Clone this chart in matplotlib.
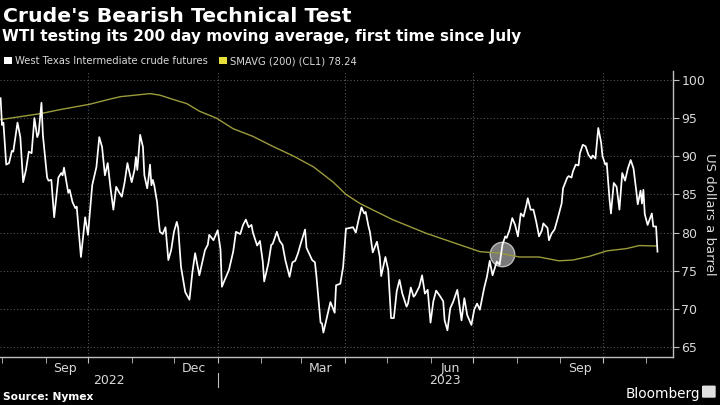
import pandas as pd
import matplotlib
matplotlib.use("Agg")
import matplotlib.pyplot as plt
import matplotlib.dates as mdates
import matplotlib.transforms as mtransforms
from matplotlib.patches import Patch, FancyBboxPatch

# Tage gezählt ab START_DATE
START_DATE = pd.Timestamp("2022-08-01")
X_START = pd.Timestamp("2022-07-30 14:00")
X_END = pd.Timestamp("2023-11-20")

wti_day = [
    -1, 0, 1, 3, 5, 7, 8, 11, 13, 15, 17, 19, 21, 23, 25, 26, 28, 29, 32, 33,
    35, 37, 40, 42, 43, 44, 47, 48, 50, 52, 53, 56, 59, 61, 64, 67, 69, 71, 73, 75,
    77, 79, 81, 83, 85, 87, 89, 90, 92, 94, 95, 96, 98, 100, 101, 103, 104, 105, 106, 107,
    108, 110, 111, 112, 114, 116, 118, 120, 122, 124, 125, 127, 130, 133, 135, 137, 140, 144, 146, 147,
    150, 153, 155, 156, 158, 161, 164, 166, 169, 171, 173, 175, 177, 178, 181, 183, 185, 186, 189, 191,
    192, 195, 197, 199, 201, 204, 206, 208, 210, 212, 215, 216, 220, 222, 223, 226, 227, 228, 230, 233,
    236, 237, 240, 242, 244, 249, 251, 253, 255, 257, 258, 260, 261, 263, 266, 268, 269, 272, 274, 276,
    278, 280, 282, 284, 287, 288, 290, 292, 293, 296, 298, 300, 302, 304, 306, 308, 311, 313, 314, 316,
    318, 320, 323, 326, 328, 330, 333, 335, 337, 339, 342, 344, 346, 348, 351, 353, 355, 357, 358, 360,
    362, 364, 366, 368, 370, 372, 373, 375, 377, 379, 381, 383, 384, 387, 388, 390, 392, 394, 397, 398,
    401, 402, 404, 405, 407, 409, 410, 412, 414, 416, 418, 419, 421, 423, 425, 426, 428, 429, 431, 432,
    434, 436, 438, 440, 442, 444, 446, 448, 450, 451, 453, 454, 455, 456, 458, 461, 462, 464, 465,
]
wti_price = [
    97.6, 94.1, 94.4, 88.9, 89.1, 90.7, 90.6, 94.4, 92.5, 86.6, 88.2, 90.6, 90.4, 95.0, 92.5, 93.0, 97.0, 92.8, 87.2, 86.8,
    86.9, 82.0, 87.2, 87.8, 87.5, 88.5, 85.2, 85.6, 84.0, 83.2, 83.4, 76.8, 82.0, 79.7, 86.2, 88.6, 92.5, 91.2, 87.5, 89.1,
    85.8, 83.0, 86.0, 85.3, 84.7, 86.6, 89.1, 88.2, 86.6, 88.2, 89.9, 88.2, 92.8, 91.2, 87.5, 85.8, 87.2, 88.9, 86.2, 86.9,
    86.2, 84.0, 81.9, 80.1, 79.8, 80.7, 76.4, 77.7, 80.1, 81.4, 80.6, 75.5, 72.2, 71.2, 74.7, 77.3, 74.4, 77.7, 78.4, 79.7,
    79.0, 80.3, 77.8, 72.9, 73.8, 75.1, 77.5, 80.1, 79.8, 81.0, 81.7, 80.7, 81.0, 80.0, 78.3, 78.9, 76.2, 73.6, 76.0, 78.4,
    78.5, 80.1, 78.9, 78.4, 76.4, 74.2, 76.1, 76.3, 77.3, 78.6, 80.4, 78.0, 76.4, 76.1, 74.4, 68.2, 68.1, 66.9, 68.5, 70.9,
    69.5, 73.1, 73.3, 75.5, 80.5, 80.7, 80.0, 81.7, 83.3, 82.5, 82.7, 80.8, 80.1, 77.4, 78.8, 76.8, 74.3, 76.8, 75.1, 68.8,
    68.8, 72.3, 73.8, 72.0, 70.3, 70.7, 72.8, 71.6, 71.8, 72.9, 74.4, 72.0, 72.5, 68.2, 71.0, 72.4, 71.6, 71.0, 68.5, 67.2,
    70.1, 70.9, 72.5, 68.5, 71.4, 69.2, 67.9, 69.9, 70.7, 69.9, 72.7, 74.2, 76.3, 74.4, 76.2, 75.8, 78.4, 79.5, 79.3, 80.3,
    81.9, 81.0, 79.5, 82.5, 82.1, 83.6, 84.5, 83.0, 83.0, 81.4, 79.5, 80.3, 81.2, 80.6, 79.0, 79.9, 80.4, 81.7, 83.8, 85.8,
    87.2, 87.4, 87.2, 88.0, 88.9, 88.8, 90.4, 91.5, 91.3, 90.2, 89.7, 90.1, 89.7, 93.7, 91.8, 90.0, 88.9, 89.1, 84.3, 82.5,
    86.5, 86.0, 83.0, 87.8, 86.8, 88.4, 89.5, 88.4, 85.4, 83.7, 85.5, 83.8, 85.6, 82.4, 81.0, 82.5, 80.8, 80.8, 77.5,
]

ma_day = [-1, 28, 41, 62, 77, 84, 105, 112, 122, 131, 140, 152, 164, 178, 192, 207, 221, 235, 244, 254,
          277, 301, 320, 339, 353, 367, 381, 395, 405, 417, 429, 443, 452, 464]
ma_price = [94.8, 95.6, 96.1, 96.8, 97.5, 97.8, 98.2, 98.0, 97.4, 96.9, 95.9, 95.0, 93.6, 92.6, 91.3, 90.0, 88.6, 86.6, 85.0, 83.8,
            81.7, 79.9, 78.7, 77.5, 77.3, 76.8, 76.8, 76.3, 76.4, 76.9, 77.6, 77.9, 78.3, 78.24]

cross_day = 355
cross_price = 77.2

y_ticks = [65, 70, 75, 80, 85, 90, 95, 100]
month_labels = ["Sep", "Dec", "Mar", "Jun", "Sep"]
month_label_dates = ["2022-09-15", "2022-12-15", "2023-03-15", "2023-06-15", "2023-09-15"]
years = [2022, 2023]

BG = "#000000"
TXT = "#d9d9d9"
WTI_COLOR = "#ffffff"
MA_COLOR = "#9c9b3c"
MA_LEGEND = "#e8e03a"
GRID = "#555555"


def to_num(days):
    return mdates.date2num(START_DATE + pd.to_timedelta(days, unit="D"))


fig = plt.figure(figsize=(7.2, 4.05), dpi=100, facecolor=BG)
ax = fig.add_axes([0.0, 0.1185, 0.9347, 0.705])
ax.set_facecolor(BG)

ax.scatter(to_num([cross_day]), [cross_price], s=310, color="#8f8f8f", alpha=0.85,
           edgecolors="#d0d0d0", linewidths=1.0, zorder=1.5)
ax.plot(to_num(ma_day), ma_price, color=MA_COLOR, lw=1.0, zorder=2)
ax.plot(to_num(wti_day), wti_price, color=WTI_COLOR, lw=1.25, zorder=3)

ax.set_xlim(mdates.date2num(X_START), mdates.date2num(X_END))
ax.set_ylim(63.7, 101.1)

# Achsen
for side in ("top", "left"):
    ax.spines[side].set_visible(False)
for side in ("bottom", "right"):
    ax.spines[side].set_color("#bfbfbf")
    ax.spines[side].set_linewidth(1.0)

ax.yaxis.tick_right()
ax.yaxis.set_label_position("right")
ax.set_yticks(y_ticks)
ax.tick_params(axis="y", colors="#bfbfbf", labelcolor=TXT, labelsize=9, length=4, pad=2)
ax.set_ylabel("US dollars a barrel", color=TXT, fontsize=9.5, rotation=270, labelpad=8)

ax.xaxis.set_major_locator(mdates.MonthLocator(bymonth=[1, 4, 7, 10]))
ax.xaxis.set_minor_locator(mdates.MonthLocator())
ax.tick_params(axis="x", which="both", colors="#bfbfbf", length=4, labelbottom=False)

ax.grid(True, which="major", color=GRID, linestyle=(0, (1, 2)), linewidth=0.8)

trans = mtransforms.blended_transform_factory(ax.transData, ax.transAxes)
for lab, d in zip(month_labels, month_label_dates):
    ax.text(mdates.date2num(pd.Timestamp(d)), -0.017, lab, transform=trans,
            ha="center", va="top", color=TXT, fontsize=9)

x0, x1 = ax.get_xlim()
for yr in years:
    a = max(x0, mdates.date2num(pd.Timestamp(f"{yr}-01-01")))
    b = min(x1, mdates.date2num(pd.Timestamp(f"{yr + 1}-01-01")))
    ax.text((a + b) / 2, -0.084, str(yr), transform=trans, ha="center", va="center",
            color=TXT, fontsize=9)
for yr in years[1:]:
    d = mdates.date2num(pd.Timestamp(f"{yr}-01-01"))
    ax.plot([d, d], [-0.056, -0.105], transform=trans, color="#bfbfbf", lw=0.8, clip_on=False)

# Titel und Legende
fig.text(0.004, 0.9457, "Crude's Bearish Technical Test", color="white", fontsize=14.7,
         fontweight="bold", va="baseline")
fig.text(0.003, 0.8995, "WTI testing its 200 day moving average, first time since July",
         color="white", fontsize=11.0, fontweight="bold", va="baseline")

handles = [Patch(facecolor=WTI_COLOR, edgecolor="none"), Patch(facecolor=MA_LEGEND, edgecolor="none")]
fig.legend(handles, ["West Texas Intermediate crude futures", "SMAVG (200) (CL1) 78.24"],
           loc="center left", bbox_to_anchor=(0.006, 0.849), ncol=2, frameon=False,
           fontsize=7.2, labelcolor=TXT, handlelength=0.75, handleheight=0.75,
           handletextpad=0.35, columnspacing=1.1, borderaxespad=0, borderpad=0)

fig.text(0.004, 0.012, "Source: Nymex", color="white", fontsize=7.7, fontweight="bold", va="baseline")
fig.text(0.972, 0.018, "Bloomberg", color="white", fontsize=9.8, ha="right", va="baseline")
fig.patches.append(FancyBboxPatch((0.977, 0.020), 0.015, 0.026, boxstyle="round,pad=0.002",
                                  transform=fig.transFigure, facecolor="#e0e0e0", edgecolor="none"))

fig.savefig("out.png", dpi=100, facecolor=BG)
